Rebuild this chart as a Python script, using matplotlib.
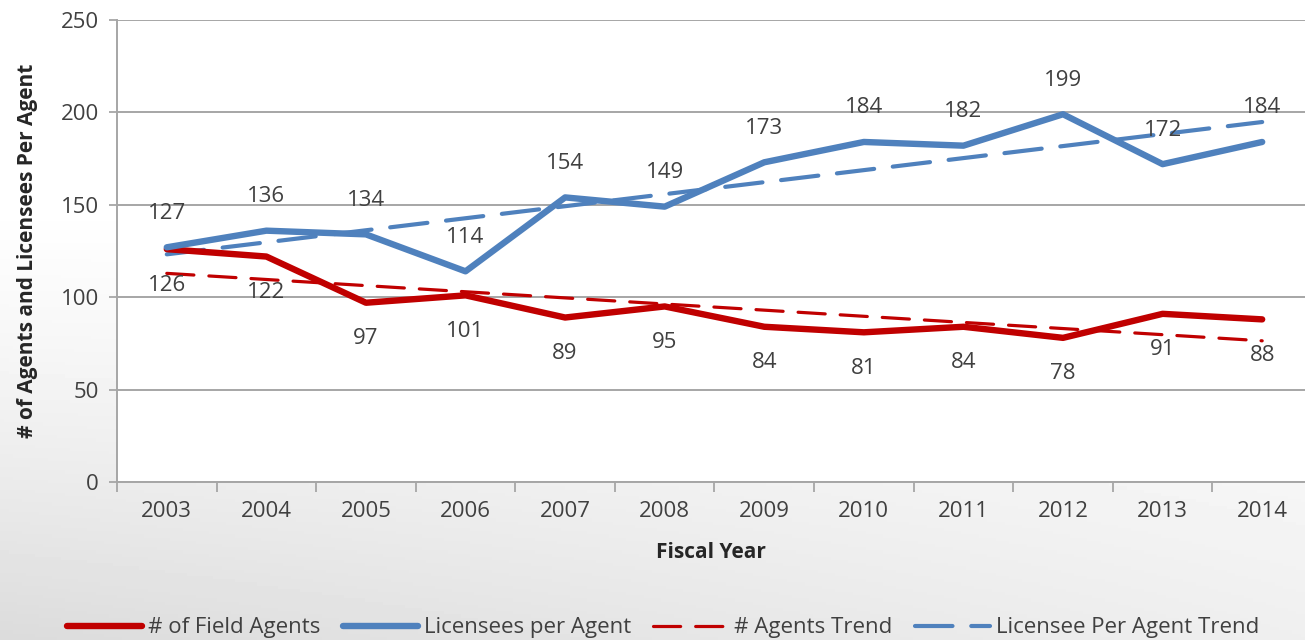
import numpy as np
import matplotlib
matplotlib.use('Agg')
import matplotlib.pyplot as plt
from matplotlib.ticker import FixedLocator, NullFormatter, FixedFormatter

years = ['2003', '2004', '2005', '2006', '2007', '2008', '2009', '2010', '2011', '2012', '2013', '2014']
field_agents = [126, 122, 97, 101, 89, 95, 84, 81, 84, 78, 91, 88]
licensees_per_agent = [127, 136, 134, 114, 154, 149, 173, 184, 182, 199, 172, 184]
# trend line end values (first and last fiscal year)
agents_trend = [112.9, 76.4]
licensee_trend = [123.2, 194.8]

red = '#C00000'
blue = '#4F81BD'
txt = '#404040'
grid = '#A6A6A6'
fs = 16

plt.rcParams.update({
    'font.family': ['Open Sans', 'DejaVu Sans'],
    'font.size': fs,
})

fig = plt.figure(figsize=(13.05, 6.4), dpi=100)

# soft grey gradient behind the lower part of the slide
bg = fig.add_axes([0, 0, 1, 1], zorder=-10)
gy, gx = np.mgrid[0:1:200j, 0:1:300j]
shade = np.clip((gy - 0.30) / 0.70, 0, 1) ** 1.3 * (1 - 0.55 * gx)
img = 1 - 0.14 * shade
bg.imshow(img, cmap='gray', vmin=0, vmax=1, extent=[0, 1, 0, 1], aspect='auto', origin='lower')
bg.axis('off')
bg.set_ylim(1, 0)

ax = fig.add_axes([117 / 1305, 158 / 640, 1 - 117 / 1305, 462 / 640])
ax.set_facecolor('white')
x = np.arange(len(years))

ax.plot(x, field_agents, color=red, lw=4.6, solid_capstyle='round', solid_joinstyle='round',
        label='# of Field Agents', zorder=4)
ax.plot(x, licensees_per_agent, color=blue, lw=4.6, solid_capstyle='round', solid_joinstyle='round',
        label='Licensees per Agent', zorder=4)
ax.plot([x[0], x[-1]], agents_trend, color=red, lw=2.3, dashes=(8.5, 4.7), dash_capstyle='round',
        label='# Agents Trend', zorder=3)
ax.plot([x[0], x[-1]], licensee_trend, color=blue, lw=3.0, dashes=(9.0, 4.5), dash_capstyle='round',
        label='Licensee Per Agent Trend', zorder=3)

for i, v in enumerate(field_agents):
    ax.annotate(str(v), (x[i], v), xytext=(0, -36), textcoords='offset pixels',
                ha='center', va='center', color=txt, fontsize=fs, zorder=6)
for i, v in enumerate(licensees_per_agent):
    ax.annotate(str(v), (x[i], v), xytext=(0, 34), textcoords='offset pixels',
                ha='center', va='center', color=txt, fontsize=fs, zorder=6)

ax.set_ylim(0, 250)
ax.set_xlim(-0.5, 11.43)
ax.set_yticks(np.arange(0, 251, 50))
ax.yaxis.grid(True, color=grid, lw=1.4)
ax.set_axisbelow(True)

ax.xaxis.set_major_locator(FixedLocator(np.arange(-0.5, 12, 1)))
ax.xaxis.set_major_formatter(NullFormatter())
ax.xaxis.set_minor_locator(FixedLocator(x))
ax.xaxis.set_minor_formatter(FixedFormatter(years))
ax.tick_params(axis='x', which='major', length=7, width=1.3, color=grid, direction='out')
ax.tick_params(axis='x', which='minor', length=0, pad=14, labelcolor=txt, labelsize=fs)
ax.tick_params(axis='y', length=6, width=1.3, color=grid, pad=7, labelcolor=txt, labelsize=fs)

for s in ['top', 'right']:
    ax.spines[s].set_visible(False)
for s in ['left', 'bottom']:
    ax.spines[s].set_color(grid)
    ax.spines[s].set_linewidth(1.4)

ax.set_xlabel('Fiscal Year', fontweight='bold', fontsize=15, color='#262626', labelpad=14)
ax.set_ylabel('# of Agents and Licensees Per Agent', fontweight='bold', fontsize=15, color='#262626',
              labelpad=16)

fig.legend(loc='center', bbox_to_anchor=(0.508, 0.019), ncol=4, frameon=False, fontsize=fs,
           handlelength=3.4, handletextpad=0.25, columnspacing=1.0, labelcolor=txt)

fig.savefig('out.png', dpi=100)
